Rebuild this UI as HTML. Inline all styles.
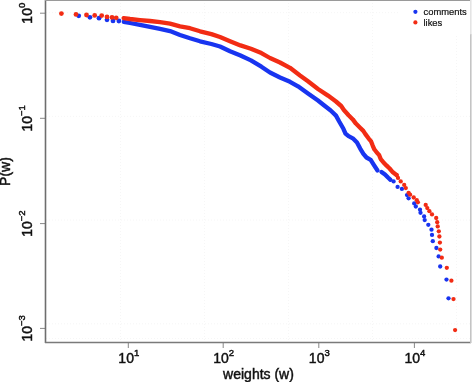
<!DOCTYPE html>
<html><head><meta charset="utf-8"><style>
html,body{margin:0;padding:0;background:#fff;}
svg{display:block;will-change:transform;font-family:"Liberation Sans",sans-serif;}
</style></head><body>
<svg width="472" height="382" viewBox="0 0 472 382">
<rect width="472" height="382" fill="#fff"/>
<g stroke="#f6f6f6" stroke-width="1" stroke-dasharray="1,2" fill="none"><line x1="120.5" y1="0" x2="120.5" y2="342" /><line x1="204.6" y1="0" x2="204.6" y2="342" /><line x1="288.6" y1="0" x2="288.6" y2="342" /><line x1="372.6" y1="0" x2="372.6" y2="342" /><line x1="456.6" y1="0" x2="456.6" y2="342" /><line x1="46" y1="12.7" x2="470" y2="12.7" /><line x1="46" y1="116.4" x2="470" y2="116.4" /><line x1="46" y1="220.1" x2="470" y2="220.1" /><line x1="46" y1="323.8" x2="470" y2="323.8" /><line x1="46" y1="338.5" x2="470" y2="338.5" /></g>
<g stroke="#888" stroke-width="1"><line x1="128.3" y1="342" x2="128.3" y2="348"/><line x1="223.2" y1="342" x2="223.2" y2="348"/><line x1="318.8" y1="342" x2="318.8" y2="348"/><line x1="414.4" y1="342" x2="414.4" y2="348"/><line x1="40" y1="13.2" x2="45" y2="13.2"/><line x1="40" y1="118.3" x2="45" y2="118.3"/><line x1="40" y1="223.6" x2="45" y2="223.6"/><line x1="40" y1="328.4" x2="45" y2="328.4"/></g>
<line x1="45.5" y1="0" x2="45.5" y2="343" stroke="#6e6e6e" stroke-width="1.6"/>
<line x1="45" y1="342.5" x2="471" y2="342.5" stroke="#7a7a7a" stroke-width="1.6"/>
<line x1="45" y1="0.5" x2="471" y2="0.5" stroke="#9a9a9a" stroke-width="1.2"/>
<line x1="470.8" y1="34" x2="470.8" y2="343" stroke="#c4c4c4" stroke-width="1.6"/>
<g fill="#111" stroke="#111" stroke-width="0.45"><text x="128.8" y="363.3" text-anchor="middle" font-size="14">10<tspan font-size="9.5" dy="-7.6">1</tspan></text><text x="223.7" y="363.3" text-anchor="middle" font-size="14">10<tspan font-size="9.5" dy="-7.6">2</tspan></text><text x="319.3" y="363.3" text-anchor="middle" font-size="14">10<tspan font-size="9.5" dy="-7.6">3</tspan></text><text x="414.9" y="363.3" text-anchor="middle" font-size="14">10<tspan font-size="9.5" dy="-7.6">4</tspan></text><text transform="translate(32,13.2) rotate(-90)" text-anchor="middle" font-size="14">10<tspan font-size="9.5" dy="-6.8">0</tspan></text><text transform="translate(32,118.3) rotate(-90)" text-anchor="middle" font-size="14">10<tspan font-size="9.5" dy="-6.8">−1</tspan></text><text transform="translate(32,223.6) rotate(-90)" text-anchor="middle" font-size="14">10<tspan font-size="9.5" dy="-6.8">−2</tspan></text><text transform="translate(32,328.4) rotate(-90)" text-anchor="middle" font-size="14">10<tspan font-size="9.5" dy="-6.8">−3</tspan></text>
<text transform="translate(10,171.5) rotate(-90)" text-anchor="middle" font-size="14">P(w)</text>
<text x="258.5" y="379" text-anchor="middle" font-size="14">weights (w)</text>
</g>
<polyline points="123.8,21.8 130.0,23.0 140.0,24.9 150.0,26.8 160.0,28.9 170.0,31.1 180.0,35.0 190.0,38.3 200.0,41.3 211.4,44.0 220.0,46.5 230.0,51.2 240.5,55.5 250.9,60.4 261.4,66.7 270.0,72.5 280.0,77.5 290.0,81.8 298.0,86.3 308.0,93.5 318.0,100.5 323.0,104.5 330.7,110.5 336.0,115.6 339.2,121.5 343.4,128.8 345.5,133.6 348.6,136.2 352.8,138.3 357.0,142.5 360.2,148.6 363.4,153.8 366.5,157.5 370.7,159.8 373.5,164.3 377.5,170.5" fill="none" stroke="#1834f0" stroke-width="4.3" stroke-linejoin="round" stroke-linecap="round"/>
<circle cx="78.7" cy="15.8" r="2.4" fill="#1834f0"/>
<circle cx="89.9" cy="17.3" r="2.4" fill="#1834f0"/>
<circle cx="99.0" cy="18.2" r="2.4" fill="#1834f0"/>
<circle cx="107.0" cy="19.8" r="2.4" fill="#1834f0"/>
<circle cx="113.0" cy="20.9" r="2.4" fill="#1834f0"/>
<circle cx="118.9" cy="21.0" r="2.4" fill="#1834f0"/>
<polyline points="381.5,172.0 385.0,174.5 388.0,177.5 390.5,179.8" fill="none" stroke="#1834f0" stroke-width="4.3" stroke-linejoin="round" stroke-linecap="round"/>
<circle cx="393.6" cy="181.4" r="2.15" fill="#1834f0"/>
<circle cx="397.6" cy="186.9" r="2.15" fill="#1834f0"/>
<circle cx="401.9" cy="188.9" r="2.15" fill="#1834f0"/>
<circle cx="407.0" cy="195.1" r="2.15" fill="#1834f0"/>
<circle cx="408.6" cy="198.3" r="2.15" fill="#1834f0"/>
<circle cx="414.2" cy="203.4" r="2.15" fill="#1834f0"/>
<circle cx="415.8" cy="206.5" r="2.15" fill="#1834f0"/>
<circle cx="420.0" cy="209.7" r="2.15" fill="#1834f0"/>
<circle cx="420.5" cy="212.8" r="2.15" fill="#1834f0"/>
<circle cx="424.1" cy="216.5" r="2.15" fill="#1834f0"/>
<circle cx="424.7" cy="220.1" r="2.15" fill="#1834f0"/>
<circle cx="428.3" cy="224.8" r="2.15" fill="#1834f0"/>
<circle cx="431.5" cy="229.7" r="2.15" fill="#1834f0"/>
<circle cx="432.0" cy="234.9" r="2.15" fill="#1834f0"/>
<circle cx="432.8" cy="241.2" r="2.15" fill="#1834f0"/>
<circle cx="436.4" cy="248.0" r="2.15" fill="#1834f0"/>
<circle cx="438.6" cy="256.4" r="2.15" fill="#1834f0"/>
<circle cx="440.2" cy="266.5" r="2.15" fill="#1834f0"/>
<circle cx="446.5" cy="279.6" r="2.15" fill="#1834f0"/>
<circle cx="448.5" cy="298.3" r="2.15" fill="#1834f0"/>
<polyline points="123.6,18.1 130.0,19.0 140.0,20.1 150.0,21.0 160.0,22.2 170.0,23.6 180.0,26.3 190.0,28.2 200.0,31.3 211.4,34.1 220.0,37.0 230.0,41.2 240.5,45.4 250.9,48.7 261.4,53.1 270.0,58.0 280.0,62.5 290.0,67.8 300.0,75.5 308.0,81.3 318.0,89.0 328.0,95.6 336.0,101.5 341.2,106.0 343.9,110.0 348.6,115.2 352.8,119.4 355.9,123.6 360.1,127.8 363.3,130.9 365.4,134.1 368.5,138.3 371.1,141.4 372.7,145.6 374.3,149.3 377.0,152.8 379.1,154.9 380.7,159.1 383.3,162.2 386.4,165.4 389.6,168.5 392.9,172.3 396.5,175.0" fill="none" stroke="#f22c14" stroke-width="4.3" stroke-linejoin="round" stroke-linecap="round"/>
<circle cx="61.4" cy="13.6" r="2.4" fill="#f22c14"/>
<circle cx="76.0" cy="14.4" r="2.4" fill="#f22c14"/>
<circle cx="86.5" cy="15.0" r="2.4" fill="#f22c14"/>
<circle cx="94.7" cy="15.4" r="2.4" fill="#f22c14"/>
<circle cx="101.7" cy="15.6" r="2.4" fill="#f22c14"/>
<circle cx="107.0" cy="16.9" r="2.4" fill="#f22c14"/>
<circle cx="112.0" cy="17.4" r="2.4" fill="#f22c14"/>
<circle cx="116.2" cy="17.8" r="2.4" fill="#f22c14"/>
<circle cx="396.8" cy="175.1" r="2.15" fill="#f22c14"/>
<circle cx="398.0" cy="177.9" r="2.15" fill="#f22c14"/>
<circle cx="400.7" cy="181.4" r="2.15" fill="#f22c14"/>
<circle cx="404.2" cy="184.9" r="2.15" fill="#f22c14"/>
<circle cx="405.8" cy="188.1" r="2.15" fill="#f22c14"/>
<circle cx="408.6" cy="192.8" r="2.15" fill="#f22c14"/>
<circle cx="410.1" cy="194.7" r="2.15" fill="#f22c14"/>
<circle cx="413.7" cy="197.5" r="2.15" fill="#f22c14"/>
<circle cx="416.8" cy="200.2" r="2.15" fill="#f22c14"/>
<circle cx="417.9" cy="202.3" r="2.15" fill="#f22c14"/>
<circle cx="425.7" cy="204.9" r="2.15" fill="#f22c14"/>
<circle cx="427.3" cy="208.1" r="2.15" fill="#f22c14"/>
<circle cx="429.4" cy="211.2" r="2.15" fill="#f22c14"/>
<circle cx="432.0" cy="214.4" r="2.15" fill="#f22c14"/>
<circle cx="436.2" cy="218.0" r="2.15" fill="#f22c14"/>
<circle cx="437.2" cy="222.2" r="2.15" fill="#f22c14"/>
<circle cx="437.7" cy="226.4" r="2.15" fill="#f22c14"/>
<circle cx="438.8" cy="231.3" r="2.15" fill="#f22c14"/>
<circle cx="439.4" cy="236.5" r="2.15" fill="#f22c14"/>
<circle cx="439.9" cy="242.6" r="2.15" fill="#f22c14"/>
<circle cx="440.2" cy="249.6" r="2.15" fill="#f22c14"/>
<circle cx="441.8" cy="257.7" r="2.15" fill="#f22c14"/>
<circle cx="446.8" cy="267.8" r="2.15" fill="#f22c14"/>
<circle cx="451.4" cy="280.7" r="2.15" fill="#f22c14"/>
<circle cx="453.5" cy="299.1" r="2.15" fill="#f22c14"/>
<circle cx="455.1" cy="330.1" r="2.15" fill="#f22c14"/>
<rect x="400" y="1.2" width="70.3" height="33" fill="#fff"/>
<line x1="470.8" y1="0" x2="470.8" y2="34.2" stroke="#e4e4e4" stroke-width="1.6"/>
<circle cx="415.4" cy="11.8" r="2.1" fill="#1834f0"/>
<circle cx="415.4" cy="22.4" r="2.1" fill="#f22c14"/>
<g fill="#111" stroke="#111" stroke-width="0.2" font-size="9.4">
<text x="423.5" y="15.1">comments</text>
<text x="423.5" y="25.9">likes</text>
</g>
</svg>
</body></html>
